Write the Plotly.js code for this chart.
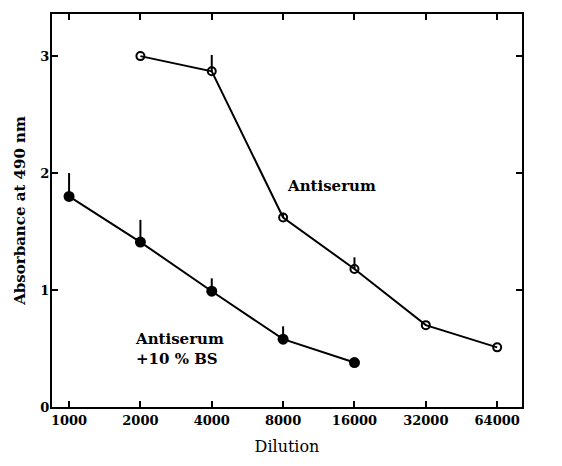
<!DOCTYPE html>
<html>
<head>
<meta charset="utf-8">
<script src="https://cdn.plot.ly/plotly-3.0.1.min.js"></script>
<style>html,body{margin:0;padding:0;background:#fff;}#chart{width:562px;height:466px;}</style>
</head>
<body>
<div id="chart"></div>
<script>
// Dilution categories (x axis, log scale)
const dilutionTicks = [1000, 2000, 4000, 8000, 16000, 32000, 64000];
const dilutionTickText = ["1000", "2000", "4000", "8000", "16000", "32000", "64000"];

// Series: Antiserum (open circles)
const antiserumX = [2000, 4000, 8000, 16000, 32000, 64000];
const antiserumY = [3.00, 2.87, 1.62, 1.18, 0.70, 0.51];
const antiserumErrUp = [0, 0.14, 0.04, 0.10, 0, 0];

// Series: Antiserum + 10 % BS (filled circles)
const bsX = [1000, 2000, 4000, 8000, 16000];
const bsY = [1.80, 1.41, 0.99, 0.58, 0.38];
const bsErrUp = [0.20, 0.19, 0.11, 0.11, 0];

const serif = "DejaVu Serif, Liberation Serif, serif";

const traces = [
  {
    x: antiserumX, y: antiserumY, type: "scatter", mode: "lines+markers",
    name: "Antiserum",
    line: {color: "#000", width: 2},
    marker: {symbol: "circle-open", size: 8, color: "#000", line: {width: 2, color: "#000"}},
    error_y: {type: "data", symmetric: false, array: antiserumErrUp,
              arrayminus: antiserumX.map(() => 0), width: 0, thickness: 2, color: "#000"}
  },
  {
    x: bsX, y: bsY, type: "scatter", mode: "lines+markers",
    name: "Antiserum +10 % BS",
    line: {color: "#000", width: 2},
    marker: {symbol: "circle", size: 11, color: "#000"},
    error_y: {type: "data", symmetric: false, array: bsErrUp,
              arrayminus: bsX.map(() => 0), width: 0, thickness: 2, color: "#000"}
  }
];

const layout = {
  width: 562, height: 466,
  margin: {l: 52, r: 40, t: 14, b: 59},
  paper_bgcolor: "#fff", plot_bgcolor: "#fff",
  showlegend: false,
  font: {family: serif, color: "#000"},
  xaxis: {
    type: "log",
    range: [2.928, 4.911],
    tickvals: dilutionTicks, ticktext: dilutionTickText,
    ticks: "inside", ticklen: 6, tickwidth: 2, tickcolor: "#000",
    showline: true, linewidth: 2, linecolor: "#000", mirror: "ticks",
    showgrid: false, zeroline: false,
    tickfont: {family: serif, size: 13, color: "#000", weight: "bold"},
    title: {text: "Dilution", font: {family: serif, size: 16, color: "#000"}, standoff: 14}
  },
  yaxis: {
    range: [0, 3.36],
    tickvals: [0, 1, 2, 3],
    ticks: "inside", ticklen: 6, tickwidth: 2, tickcolor: "#000",
    showline: true, linewidth: 2, linecolor: "#000", mirror: "ticks",
    showgrid: false, zeroline: false,
    tickfont: {family: serif, size: 13, color: "#000", weight: "bold"},
    ticklabelstandoff: -2,
    title: {text: "Absorbance at 490 nm", font: {family: serif, size: 15, color: "#000", weight: "bold"}, standoff: 11}
  },
  annotations: [
    {xref: "paper", yref: "y", x: 0.496, y: 1.89, xanchor: "left", yanchor: "middle",
     text: "Antiserum", showarrow: false,
     font: {family: serif, size: 15, color: "#000", weight: "bold"}},
    {xref: "paper", yref: "y", x: 0.172, y: 0.50, xanchor: "left", yanchor: "middle", align: "left",
     text: "Antiserum<br>+10 % BS", showarrow: false,
     font: {family: serif, size: 15, color: "#000", weight: "bold"}}
  ]
};

Plotly.newPlot("chart", traces, layout, {displayModeBar: false, staticPlot: true});
</script>
</body>
</html>
